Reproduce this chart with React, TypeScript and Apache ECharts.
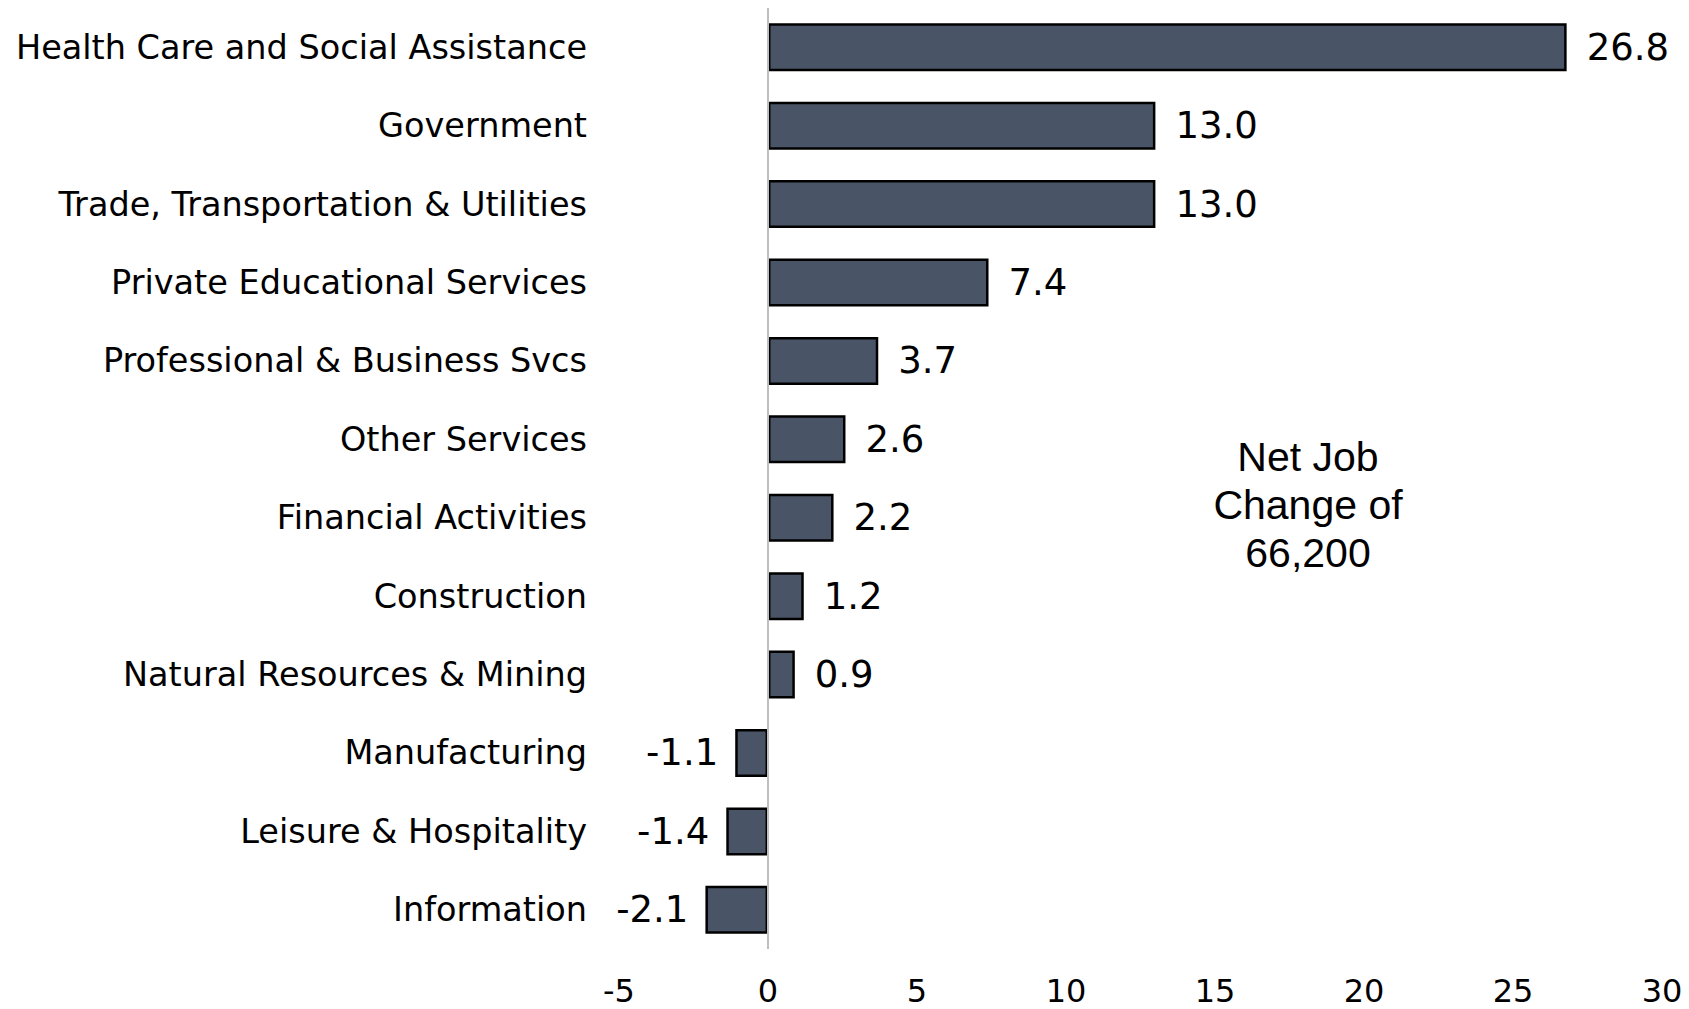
import React, { useEffect, useRef } from "react";
import * as echarts from "echarts";

const categories: string[] = [
  "Health Care and Social Assistance",
  "Government",
  "Trade, Transportation & Utilities",
  "Private Educational Services",
  "Professional & Business Svcs",
  "Other Services",
  "Financial Activities",
  "Construction",
  "Natural Resources & Mining",
  "Manufacturing",
  "Leisure & Hospitality",
  "Information",
];

const values: number[] = [26.8, 13.0, 13.0, 7.4, 3.7, 2.6, 2.2, 1.2, 0.9, -1.1, -1.4, -2.1];

const xMin = -5;
const xMax = 30;
const xInterval = 5;

const annotationLines: string[] = ["Net Job", "Change of", "66,200"];

const BAR_COLOR = "#4a5467";
const FONT = "DejaVu Sans, Verdana, sans-serif";

export default function App() {
  const ref = useRef<HTMLDivElement>(null);

  useEffect(() => {
    if (!ref.current) return;
    const chart = echarts.init(ref.current, null, { renderer: "svg" });
    chart.setOption({
      animation: false,
      backgroundColor: "#ffffff",
      grid: { left: 619, right: 27, top: 8, bottom: 60, containLabel: false },
      xAxis: {
        type: "value",
        min: xMin,
        max: xMax,
        interval: xInterval,
        axisLine: { show: false },
        axisTick: { show: false },
        splitLine: { show: false },
        axisLabel: {
          color: "#000000",
          fontFamily: FONT,
          fontSize: 32,
          lineHeight: 32,
          margin: 26,
        },
      },
      yAxis: {
        type: "category",
        data: categories,
        inverse: true,
        axisLine: { show: false },
        axisTick: { show: false },
        splitLine: { show: false },
        axisLabel: {
          color: "#000000",
          fontFamily: FONT,
          fontSize: 33.5,
          margin: 32,
        },
      },
      series: [
        {
          type: "bar",
          barWidth: 48,
          data: values.map((v) => ({
            value: v,
            label: {
              show: true,
              position: v < 0 ? "left" : "right",
              distance: v < 0 ? 17 : 20,
              formatter: (p: any) => Number(p.value).toFixed(1),
              color: "#000000",
              fontFamily: FONT,
              fontSize: 37,
            },
          })),
          itemStyle: {
            color: BAR_COLOR,
            borderColor: "#000000",
            borderWidth: 2.5,
          },
          markLine: {
            silent: true,
            symbol: "none",
            label: { show: false },
            lineStyle: { color: "#bfbfbf", width: 2, type: "solid" },
            data: [{ xAxis: 0 }],
          },
        },
      ],
      graphic: [
        {
          type: "text",
          x: 1308,
          y: 433,
          style: {
            text: annotationLines.join("\n"),
            fontFamily: "Liberation Sans, Arial, sans-serif",
            fontSize: 41,
            lineHeight: 48,
            fill: "#000000",
            align: "center",
            verticalAlign: "top",
          },
        },
      ],
    });
    return () => chart.dispose();
  }, []);

  return (
    <div
      ref={ref}
      style={{ position: "fixed", left: 0, top: 0, width: 1689, height: 1009 }}
    />
  );
}
